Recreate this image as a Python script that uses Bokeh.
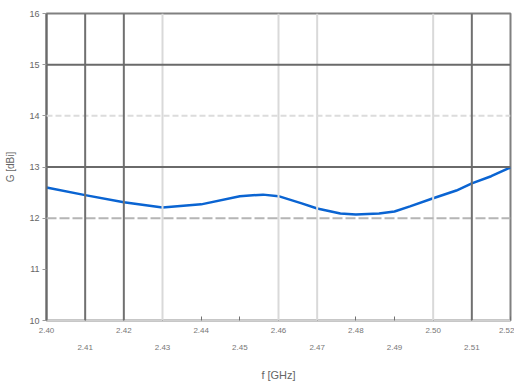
from bokeh.plotting import figure
from bokeh.models import LinearAxis, Span, FixedTicker, Range1d
from bokeh.embed import file_html
from bokeh.resources import INLINE

freq = [2.400, 2.410, 2.420, 2.430, 2.440, 2.450, 2.456, 2.460, 2.466, 2.470, 2.476, 2.480, 2.486, 2.490, 2.494, 2.500, 2.506, 2.510, 2.515, 2.520]
gain = [12.60, 12.45, 12.31, 12.21, 12.27, 12.43, 12.46, 12.43, 12.29, 12.19, 12.09, 12.07, 12.09, 12.13, 12.23, 12.39, 12.54, 12.68, 12.82, 12.99]

x_ticks = [2.40, 2.41, 2.42, 2.43, 2.44, 2.45, 2.46, 2.47, 2.48, 2.49, 2.50, 2.51, 2.52]
y_ticks = [10, 11, 12, 13, 14, 15, 16]

dark_x = [2.41, 2.42, 2.51]
light_x = [2.43, 2.46, 2.47, 2.50]
dark_y = [15, 13]
light_dash_y = [14]
gray_dash_y = [12]

p = figure(width=514, height=383, output_backend="svg", toolbar_location=None,
           x_range=Range1d(2.40, 2.52), y_range=Range1d(10, 16),
           min_border_left=46, min_border_top=13, min_border_right=4, min_border_bottom=10)
p.outline_line_color = "#808080"
p.outline_line_width = 2
p.xgrid.visible = False
p.ygrid.visible = False

for xv in light_x:
    p.add_layout(Span(location=xv, dimension="height", line_color="#d9d9d9", line_width=2))
for yv in light_dash_y:
    p.add_layout(Span(location=yv, dimension="width", line_color="#dcdcdc", line_width=2, line_dash="6 3"))
for yv in gray_dash_y:
    p.add_layout(Span(location=yv, dimension="width", line_color="#b5b5b5", line_width=2, line_dash="10 3"))
for xv in dark_x:
    p.add_layout(Span(location=xv, dimension="height", line_color="#707070", line_width=2))
for yv in dark_y:
    p.add_layout(Span(location=yv, dimension="width", line_color="#6a6a6a", line_width=2))

p.line(freq, gain, line_color="#0a64d2", line_width=2.5)

idx = {i: v for i, v in enumerate(x_ticks)}
ax = p.xaxis[0]
ax.ticker = FixedTicker(ticks=x_ticks)
ax.major_label_overrides = {v: (f"{v:.2f}" if i % 2 == 0 else "") for i, v in idx.items()}
ax.axis_line_color = "#d0d0d0"
ax.axis_line_width = 2
ax.major_tick_line_color = "#707070"
ax.major_tick_in = 4
ax.major_tick_out = 0
ax.minor_tick_line_color = None
ax.major_label_text_font_size = "8px"
ax.major_label_text_color = "#777777"
ax.major_label_standoff = 7

ax2 = LinearAxis(ticker=FixedTicker(ticks=x_ticks))
ax2.major_label_overrides = {v: (f"{v:.2f}" if i % 2 == 1 else "") for i, v in idx.items()}
ax2.axis_line_color = None
ax2.major_tick_line_color = None
ax2.minor_tick_line_color = None
ax2.major_label_text_font_size = "8px"
ax2.major_label_text_color = "#777777"
ax2.major_label_standoff = 3
ax2.axis_label = "f [GHz]"
ax2.axis_label_text_font_size = "11px"
ax2.axis_label_text_font_style = "normal"
ax2.axis_label_text_color = "#666666"
ax2.axis_label_standoff = 16
p.add_layout(ax2, "below")

ay = p.yaxis[0]
ay.ticker = FixedTicker(ticks=y_ticks)
ay.axis_line_color = "#6a6a6a"
ay.axis_line_width = 2
ay.major_tick_line_color = "#9a9a9a"
ay.major_tick_out = 4
ay.major_tick_in = 0
ay.minor_tick_line_color = None
ay.major_label_text_font_size = "9px"
ay.major_label_text_color = "#666666"
ay.major_label_standoff = 3
ay.axis_label = "G [dBi]"
ay.axis_label_text_font_size = "10px"
ay.axis_label_text_font_style = "normal"
ay.axis_label_text_color = "#666666"
ay.axis_label_standoff = 10

open("out.html", "w").write(file_html(p, INLINE))
